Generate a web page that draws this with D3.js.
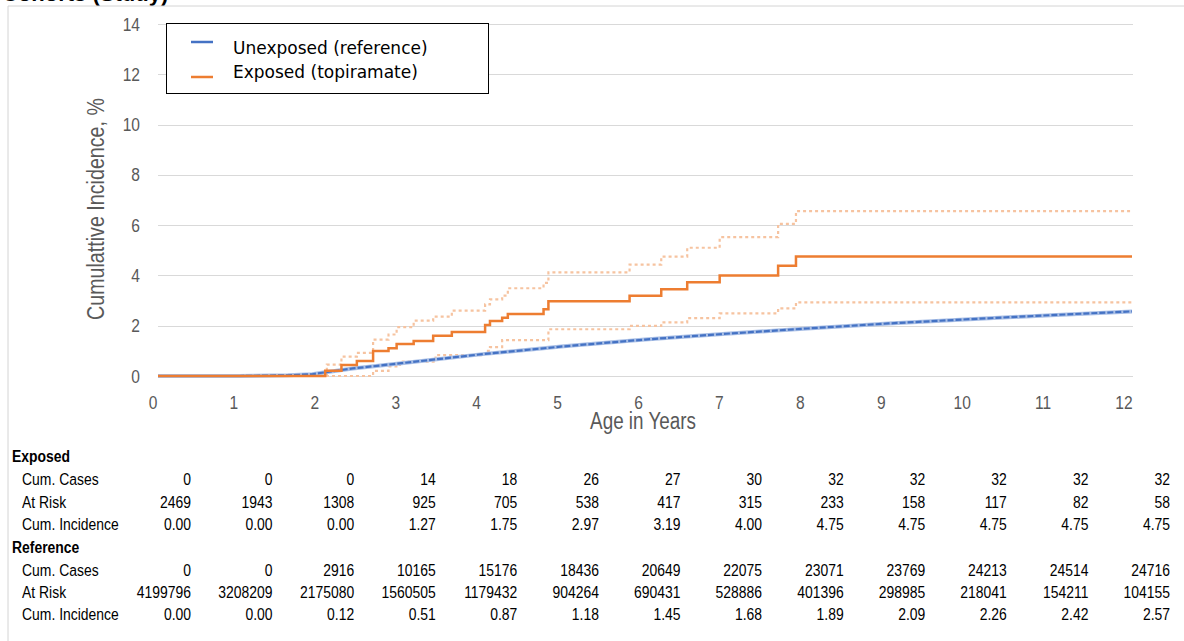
<!DOCTYPE html>
<html><head><meta charset="utf-8">
<script src="https://cdn.jsdelivr.net/npm/d3@7"></script>
<style>body{margin:0;background:#fff}svg{display:block}</style>
</head><body>
<svg id="c" width="1184" height="641"></svg>
<script>
// ---- data ----
const years = [0,1,2,3,4,5,6,7,8,9,10,11,12];
const yTicks = [0,2,4,6,8,10,12,14];
// Exposed (topiramate) step curve
const exposedT = [0,2.06,2.26,2.45,2.65,2.84,2.94,3.15,3.39,3.62,4.03,4.09,4.24,4.31,4.75,4.81,5.81,6.2,6.52,6.92,7.64,7.86,12];
const exposedV = [0,0.21,0.44,0.6,0.99,1.1,1.27,1.39,1.6,1.75,2.03,2.19,2.32,2.47,2.65,2.97,3.19,3.45,3.73,4.0,4.38,4.75,4.75];
const exposedUpperT = [0,2.08,2.26,2.45,2.65,2.84,2.94,3.15,3.39,3.62,4.03,4.09,4.24,4.31,4.75,4.81,5.81,6.2,6.52,6.92,7.64,7.86,12];
const exposedUpperV = [0,0.45,0.77,0.92,1.45,1.65,1.94,2.2,2.36,2.6,2.85,3.05,3.2,3.49,3.7,4.12,4.43,4.75,5.1,5.52,6.05,6.56,6.56];
const exposedLowerT = [0,2.65,2.84,2.98,3.42,4.03,4.09,4.24,4.81,5.81,6.2,6.52,6.92,7.64,7.86,12];
const exposedLowerV = [0,0.2,0.38,0.57,0.83,1.0,1.15,1.43,1.86,1.99,2.13,2.3,2.49,2.69,2.93,2.93];
// Unexposed (reference) curve
const refT = [0,1,1.2,1.6,1.9,2,2.4,3,4,5,6,7,8,9,10,11,12];
const refV = [0,0,0.01,0.03,0.07,0.12,0.3,0.51,0.87,1.18,1.45,1.68,1.89,2.09,2.26,2.42,2.57];
// table
const expCases = [0,0,0,14,18,26,27,30,32,32,32,32,32];
const expRisk = [2469,1943,1308,925,705,538,417,315,233,158,117,82,58];
const expInc = ["0.00","0.00","0.00","1.27","1.75","2.97","3.19","4.00","4.75","4.75","4.75","4.75","4.75"];
const refCases = [0,0,2916,10165,15176,18436,20649,22075,23071,23769,24213,24514,24716];
const refRisk = [4199796,3208209,2175080,1560505,1179432,904264,690431,528886,401396,298985,218041,154211,104155];
const refInc = ["0.00","0.00","0.12","0.51","0.87","1.18","1.45","1.68","1.89","2.09","2.26","2.42","2.57"];
const legendLabels = ["Unexposed (reference)","Exposed (topiramate)"];

// ---- drawing ----
const svg = d3.select("#c");
const x = d3.scaleLinear().domain([0,12]).range([158,1132]);
const xLab = d3.scaleLinear().domain([0,12]).range([153,1124]);
const y = d3.scaleLinear().domain([0,14]).range([376,24]);
const col = d3.scaleLinear().domain([0,12]).range([191,1170]);
const NARROW = 0.82;
const FONT = "'Liberation Sans', Arial, sans-serif";

function ntext(g, tx, ty, str, o) {
  o = o || {};
  return g.append("text")
    .attr("transform", `translate(${tx},${ty}) ${o.rot?`rotate(${o.rot})`:""} scale(${NARROW},1)`)
    .attr("text-anchor", o.anchor || "start")
    .attr("dominant-baseline", "central")
    .attr("font-family", FONT)
    .attr("font-size", o.size || 17)
    .attr("font-weight", o.bold ? "bold" : "normal")
    .attr("fill", o.fill || "#000")
    .text(str);
}

// frame & clipped title
svg.append("text").attr("x", 2).attr("y", 1).attr("font-family", FONT)
  .attr("font-size", 22).attr("font-weight", "bold").attr("fill", "#000")
  .text("Cohorts (Study)");
svg.append("path").attr("d", "M8,641V6H1184").attr("fill","none").attr("stroke","#d4d4d4").attr("stroke-width",1);

// gridlines
svg.append("g").selectAll("line").data(yTicks).join("line")
  .attr("x1", x(0)).attr("x2", x(12)+1)
  .attr("y1", d => Math.round(y(d))+0.5).attr("y2", d => Math.round(y(d))+0.5)
  .attr("stroke", "#d9d9d9").attr("stroke-width", 1);

// axis labels
const axg = svg.append("g");
yTicks.forEach(v => ntext(axg, 140, y(v), String(v), {anchor:"end", size:19, fill:"#595959"}));
years.forEach(v => ntext(axg, xLab(v), 402, String(v), {anchor:"middle", size:19, fill:"#595959"}));
ntext(axg, 96, 209, "Cumulattive Incidence, %", {anchor:"middle", size:24, fill:"#595959", rot:-90});
ntext(axg, 643, 421, "Age in Years", {anchor:"middle", size:23, fill:"#595959"});

const stepLine = d3.line().x(d => x(d[0])).y(d => y(d[1])).curve(d3.curveStepAfter);
const linLine = d3.line().x(d => x(d[0])).y(d => y(d[1]));
const zip = (a,b) => a.map((t,i) => [t,b[i]]);

const plot = svg.append("g");
// orange CI dotted
[zip(exposedUpperT, exposedUpperV), zip(exposedLowerT, exposedLowerV)].forEach(pts => {
  plot.append("path").attr("d", stepLine(pts)).attr("fill","none")
    .attr("stroke","#f6c3a0").attr("stroke-width",2.2).attr("stroke-dasharray","3,3");
});
// blue reference
const refPts = zip(refT, refV);
plot.append("path").attr("d", linLine(refPts)).attr("fill","none")
  .attr("stroke","#a9bfe6").attr("stroke-width",4);
plot.append("path").attr("d", linLine(refPts)).attr("fill","none")
  .attr("stroke","#4472c4").attr("stroke-width",2.2).attr("stroke-dasharray","6,2");
// orange main
plot.append("path").attr("d", stepLine(zip(exposedT, exposedV))).attr("fill","none")
  .attr("stroke","#ed7d31").attr("stroke-width",2.5);

// legend
const lg = svg.append("g");
lg.append("rect").attr("x",166.5).attr("y",23.5).attr("width",322).attr("height",70)
  .attr("fill","#fff").attr("stroke","#000").attr("stroke-width",1);
const lcol = ["#4472c4","#ed7d31"];
const lineY = [42, 77], textY = [48, 72];
legendLabels.forEach((t,i) => {
  lg.append("line").attr("x1",191).attr("x2",213).attr("y1",lineY[i]).attr("y2",lineY[i])
    .attr("stroke",lcol[i]).attr("stroke-width",2.5);
  lg.append("text").attr("x",233).attr("y",textY[i]).attr("dominant-baseline","central")
    .attr("font-family","'DejaVu Sans', Verdana, sans-serif").attr("font-size",17)
    .attr("fill","#000").text(t);
});

// table
const tg = svg.append("g");
const rowY = [456,479,502,524,547,570,592,614];
ntext(tg, 12, rowY[0], "Exposed", {bold:true});
ntext(tg, 12, rowY[4], "Reference", {bold:true});
const rows = [
  ["Cum. Cases", expCases, rowY[1]],
  ["At Risk", expRisk, rowY[2]],
  ["Cum. Incidence", expInc, rowY[3]],
  ["Cum. Cases", refCases, rowY[5]],
  ["At Risk", refRisk, rowY[6]],
  ["Cum. Incidence", refInc, rowY[7]]
];
rows.forEach(([lab, vals, ry]) => {
  ntext(tg, 22, ry, lab);
  vals.forEach((v,i) => ntext(tg, col(years[i]), ry, String(v), {anchor:"end"}));
});
</script>
</body></html>
